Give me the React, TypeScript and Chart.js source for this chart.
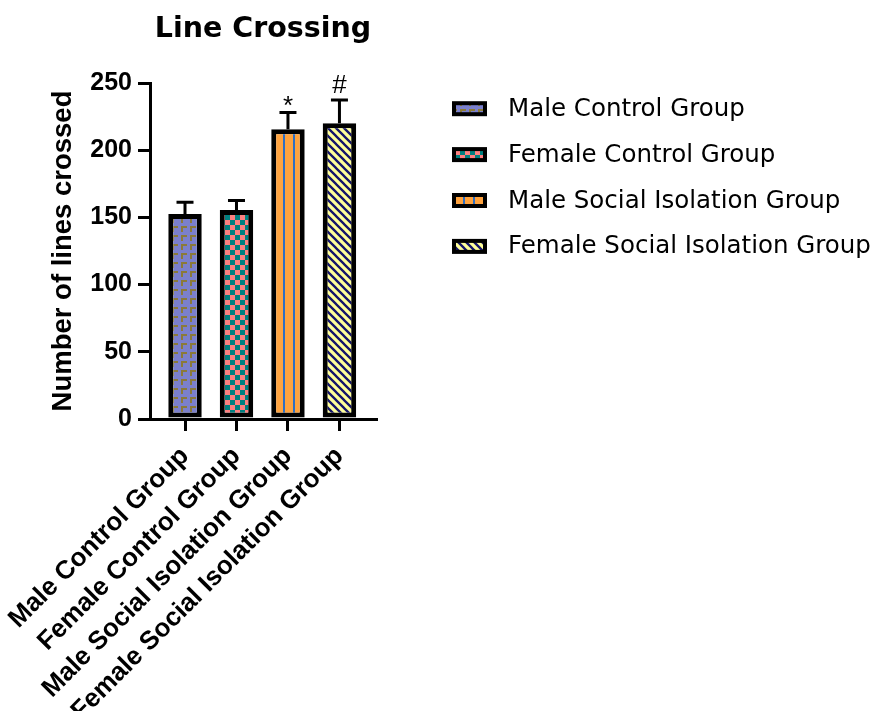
import { useEffect, useRef } from 'react';
import { Chart, registerables } from 'chart.js';
Chart.register(...registerables);

const categories = [
  'Male Control Group',
  'Female Control Group',
  'Male Social Isolation Group',
  'Female Social Isolation Group',
];
const means = [152.5, 155.5, 215.5, 220];
const sems = [8.7, 7, 12.5, 17.4];
const markers = ['', '', '*', '#'];
const yTicks = [0, 50, 100, 150, 200, 250];

function makePattern(kind: number): CanvasPattern {
  const c = document.createElement('canvas');
  const ctx = c.getContext('2d')!;
  if (kind === 0) {
    c.width = 9; c.height = 9;
    ctx.fillStyle = '#7b80cc'; ctx.fillRect(0, 0, 9, 9);
    ctx.fillStyle = '#8b7a38';
    ctx.fillRect(1, 1, 6, 2);
    ctx.fillRect(1, 1, 2, 6);
  } else if (kind === 1) {
    c.width = 10; c.height = 10;
    ctx.fillStyle = '#ff8080'; ctx.fillRect(0, 0, 10, 10);
    ctx.fillStyle = '#008080';
    ctx.fillRect(0, 0, 5, 5);
    ctx.fillRect(5, 5, 5, 5);
  } else if (kind === 2) {
    c.width = 10; c.height = 10;
    ctx.fillStyle = '#ffa33f'; ctx.fillRect(0, 0, 10, 10);
    ctx.fillStyle = '#2f6fc4'; ctx.fillRect(3, 0, 2, 10);
  } else {
    c.width = 8; c.height = 8;
    ctx.fillStyle = '#ffff99'; ctx.fillRect(0, 0, 8, 8);
    ctx.strokeStyle = '#15156b'; ctx.lineWidth = 2.3;
    ctx.beginPath();
    for (const k of [-8, 0, 8]) { ctx.moveTo(k - 2, -2); ctx.lineTo(k + 10, 10); }
    ctx.stroke();
  }
  return ctx.createPattern(c, 'repeat')!;
}

export default function App() {
  const ref = useRef<HTMLCanvasElement>(null);
  useEffect(() => {
    const canvas = ref.current!;
    const patterns = [0, 1, 2, 3].map(makePattern);

    const errorPlugin = {
      id: 'errorBars',
      afterDatasetsDraw(chart: any) {
        const { ctx } = chart;
        const meta = chart.getDatasetMeta(0);
        const ys = chart.scales.y;
        ctx.save();
        ctx.strokeStyle = '#000';
        ctx.lineWidth = 3;
        meta.data.forEach((bar: any, i: number) => {
          const top = ys.getPixelForValue(means[i] + sems[i]);
          ctx.beginPath();
          ctx.moveTo(bar.x, bar.y);
          ctx.lineTo(bar.x, top);
          ctx.moveTo(bar.x - 8.5, top);
          ctx.lineTo(bar.x + 8.5, top);
          ctx.stroke();
          if (markers[i]) {
            ctx.fillStyle = '#000';
            ctx.font = '26px "Liberation Sans"';
            ctx.textAlign = 'center';
            ctx.textBaseline = 'alphabetic';
            const m = ctx.measureText(markers[i]);
            const bottom = top - 6.5;
            ctx.fillText(markers[i], bar.x, bottom - m.actualBoundingBoxDescent);
          }
        });
        ctx.restore();
      },
    };

    const legendPlugin = {
      id: 'customLegend',
      afterDraw(chart: any) {
        const { ctx, chartArea } = chart;
        ctx.save();
        categories.forEach((label, i) => {
          const base = chartArea.top + 32.7 + i * 45.9;
          const bx = chartArea.right + 76;
          const by = base - 14.5;
          ctx.fillStyle = '#000';
          ctx.fillRect(bx, by, 35, 15);
          ctx.fillStyle = patterns[i];
          ctx.fillRect(bx + 4, by + 4, 27, 7);
          ctx.fillStyle = '#000';
          ctx.font = '24.5px "DejaVu Sans"';
          ctx.textAlign = 'left';
          ctx.textBaseline = 'alphabetic';
          ctx.fillText(label, chartArea.right + 132, base);
        });
        ctx.restore();
      },
    };

    const chart = new Chart(canvas, {
      type: 'bar',
      data: {
        datasets: [
          {
            data: categories.map((_, i) => ({ x: i, y: means[i] })),
            backgroundColor: patterns as any,
            borderColor: '#000',
            borderWidth: 5,
            borderSkipped: false,
            barPercentage: 0.65,
            categoryPercentage: 1,
          } as any,
        ],
      },
      options: {
        responsive: false,
        animation: false,
        devicePixelRatio: 1,
        layout: { padding: { left: 0, right: 501, top: 0, bottom: 0 } },
        plugins: {
          legend: { display: false },
          tooltip: { enabled: false },
          title: {
            display: true,
            text: 'Line Crossing',
            fullSize: false,
            color: '#000',
            font: { family: 'DejaVu Sans', size: 28.5, weight: 'bold' },
            padding: { top: 12, bottom: 36.8 },
          },
        },
        scales: {
          x: {
            type: 'linear',
            min: -0.68,
            max: 3.71,
            offset: false,
            afterBuildTicks: (s: any) => {
              s.ticks = categories.map((_, i) => ({ value: i }));
            },
            afterFit: (s: any) => {
              s.height = 292;
              s.paddingLeft = 0;
              s.paddingRight = 0;
            },
            ticks: {
              autoSkip: false,
              minRotation: 45,
              maxRotation: 45,
              color: '#000',
              padding: 10,
              font: { family: 'Liberation Sans', size: 26, weight: 'bold' },
              callback: (v: any) => categories[v] ?? '',
            },
            grid: {
              display: true,
              offset: false,
              drawOnChartArea: false,
              drawTicks: true,
              tickLength: 12,
              color: '#000',
              lineWidth: 3,
            },
            border: { display: true, color: '#000', width: 3 },
          } as any,
          y: {
            min: 0,
            max: 250,
            afterBuildTicks: (s: any) => {
              s.ticks = yTicks.map((v) => ({ value: v }));
            },
            afterFit: (s: any) => {
              s.width = 150;
            },
            ticks: {
              color: '#000',
              padding: 6,
              font: { family: 'Liberation Sans', size: 25, weight: 'bold' },
            },
            grid: {
              display: true,
              drawOnChartArea: false,
              drawTicks: true,
              tickLength: 12,
              color: '#000',
              lineWidth: 3,
            },
            border: { display: true, color: '#000', width: 3 },
            title: {
              display: true,
              text: 'Number of lines crossed',
              color: '#000',
              font: { family: 'Liberation Sans', size: 27.5, weight: 'bold' },
              padding: { top: 47, bottom: 0 },
            },
          } as any,
        },
      },
      plugins: [errorPlugin, legendPlugin],
    });
    return () => chart.destroy();
  }, []);

  return (
    <div style={{ position: 'absolute', left: 0, top: 0, width: 877, height: 711, background: '#fff' }}>
      <canvas ref={ref} width={877} height={711} />
    </div>
  );
}
